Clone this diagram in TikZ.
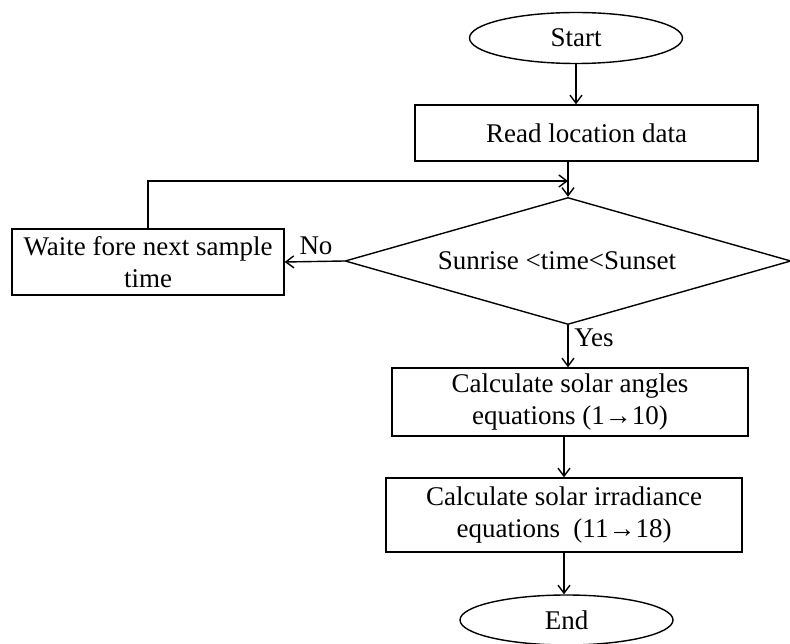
\documentclass[tikz,border=0pt]{standalone}
\usepackage{fontspec}
\setmainfont{Liberation Serif}
\usetikzlibrary{shapes.geometric,arrows.meta}
\begin{document}
\begin{tikzpicture}[x=1pt,y=-1pt,
  every node/.style={font=\fontsize{27}{32}\selectfont, inner sep=0pt},
  box/.style={draw, line width=1.4pt, align=center},
  term/.style={draw, ellipse, line width=1.4pt},
  dec/.style={draw, diamond, line width=1.4pt},
  conn/.style={line width=1.4pt, -{Straight Barb[length=8pt,width=12pt]}},
  lbl/.style={}]
\useasboundingbox (0,0) rectangle (790,644);
\node[term, minimum width=213pt, minimum height=51pt] (start) at (576,38) {Start};
\node[box, minimum width=343pt, minimum height=56pt] (read) at (586.5,133) {Read location data};
\node[dec, minimum width=446pt, minimum height=127pt] (dia) at (568,261) {};
\node (diatext) at (557,261) {Sunrise <time<Sunset};
\node[box, minimum width=272pt, minimum height=66pt] (wait) at (148,262) {Waite fore next sample\\time};
\node[box, minimum width=356pt, minimum height=68pt] (c1) at (570,402) {Calculate solar angles\\equations (1→10)};
\node[box, minimum width=356pt, minimum height=74pt] (c2) at (564,515) {Calculate solar irradiance\\equations\ \ (11→18)};
\node[term, minimum width=213pt, minimum height=50pt] (end) at (566.5,620) {End};
\coordinate (j) at (568,181);
\draw[conn] (start.south) -- (start.south |- read.north);
\draw[conn] (dia.north |- read.south) -- (dia.north);
\draw[conn] (wait.north) |- (j);
\draw[conn] (dia.west) -- (wait.east);
\node[lbl] (no) at (316,246) {No};
\draw[conn] (dia.south) -- (dia.south |- c1.north);
\node[lbl] (yes) at (594,338) {Yes};
\draw[conn] (c2.north |- c1.south) -- (c2.north);
\draw[conn] (c2.south) -- (c2.south |- end.north);
\end{tikzpicture}
\end{document}
